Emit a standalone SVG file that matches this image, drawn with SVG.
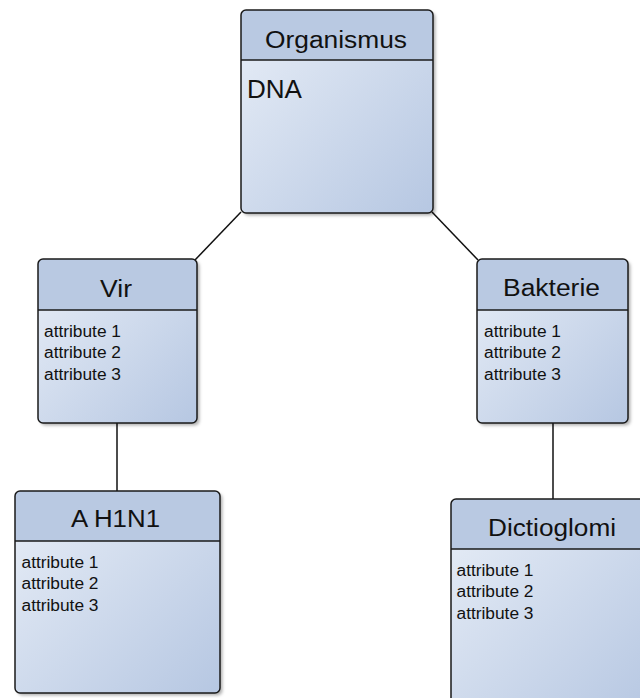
<svg xmlns="http://www.w3.org/2000/svg" width="640" height="698" viewBox="0 0 640 698">
<defs>
<linearGradient id="body" x1="0" y1="0" x2="1" y2="1">
<stop offset="0" stop-color="#e8eef7"/>
<stop offset="1" stop-color="#b6c7e2"/>
</linearGradient>
<filter id="sh" x="-10%" y="-10%" width="125%" height="125%">
<feDropShadow dx="2.5" dy="2.5" stdDeviation="1.8" flood-color="#000" flood-opacity="0.3"/>
</filter>
</defs>
<style>
.bg{fill:url(#body);filter:url(#sh)}
.hd{fill:#b9c9e2}
.ol{fill:none;stroke:#1a1a1a;stroke-width:1.5}
.sep{stroke:#1a1a1a;stroke-width:1.5}
.t{font-family:"Liberation Sans",Arial,sans-serif;fill:#111}
.h{font-size:23.5px}
.a{font-size:16px}
.c{stroke:#111;stroke-width:1.5;fill:none}
</style>
<rect width="640" height="698" fill="#fff"/>
<g id="connectors">
<line class="c" x1="241" y1="212" x2="195" y2="260"/>
<line class="c" x1="432" y1="212" x2="478" y2="260"/>
<line class="c" x1="117" y1="423" x2="117" y2="491"/>
<line class="c" x1="553" y1="423" x2="553" y2="499"/>
</g>
<g id="organismus">
<rect class="bg" x="241" y="10" width="192" height="203" rx="5"/>
<path class="hd" d="M241,60 V15 a5,5 0 0 1 5,-5 H428 a5,5 0 0 1 5,5 V60 Z"/>
<line class="sep" x1="241" y1="60" x2="433" y2="60"/>
<rect class="ol" x="241" y="10" width="192" height="203" rx="5"/>
<text class="t h" x="265" y="47.5" textLength="142" lengthAdjust="spacingAndGlyphs">Organismus</text>
<text class="t" font-size="25" x="247" y="97.5" textLength="55" lengthAdjust="spacingAndGlyphs">DNA</text>
</g>
<g id="vir">
<rect class="bg" x="38" y="259" width="159" height="164" rx="5"/>
<path class="hd" d="M38,310 V264 a5,5 0 0 1 5,-5 H192 a5,5 0 0 1 5,5 V310 Z"/>
<line class="sep" x1="38" y1="310" x2="197" y2="310"/>
<rect class="ol" x="38" y="259" width="159" height="164" rx="5"/>
<text class="t h" x="100" y="297" textLength="32" lengthAdjust="spacingAndGlyphs">Vir</text>
<text class="t a" x="44" y="336.5" textLength="77" lengthAdjust="spacingAndGlyphs">attribute 1</text>
<text class="t a" x="44" y="358" textLength="77" lengthAdjust="spacingAndGlyphs">attribute 2</text>
<text class="t a" x="44" y="379.5" textLength="77" lengthAdjust="spacingAndGlyphs">attribute 3</text>
</g>
<g id="bakterie">
<rect class="bg" x="477" y="259" width="151" height="164" rx="5"/>
<path class="hd" d="M477,310 V264 a5,5 0 0 1 5,-5 H623 a5,5 0 0 1 5,5 V310 Z"/>
<line class="sep" x1="477" y1="310" x2="628" y2="310"/>
<rect class="ol" x="477" y="259" width="151" height="164" rx="5"/>
<text class="t h" x="503" y="296" textLength="97" lengthAdjust="spacingAndGlyphs">Bakterie</text>
<text class="t a" x="484" y="336.5" textLength="77" lengthAdjust="spacingAndGlyphs">attribute 1</text>
<text class="t a" x="484" y="358" textLength="77" lengthAdjust="spacingAndGlyphs">attribute 2</text>
<text class="t a" x="484" y="379.5" textLength="77" lengthAdjust="spacingAndGlyphs">attribute 3</text>
</g>
<g id="ah1n1">
<rect class="bg" x="15" y="491" width="205" height="202" rx="5"/>
<path class="hd" d="M15,541 V496 a5,5 0 0 1 5,-5 H215 a5,5 0 0 1 5,5 V541 Z"/>
<line class="sep" x1="15" y1="541" x2="220" y2="541"/>
<rect class="ol" x="15" y="491" width="205" height="202" rx="5"/>
<text class="t h" x="71" y="527" textLength="89" lengthAdjust="spacingAndGlyphs">A H1N1</text>
<text class="t a" x="21.5" y="567.5" textLength="77" lengthAdjust="spacingAndGlyphs">attribute 1</text>
<text class="t a" x="21.5" y="589" textLength="77" lengthAdjust="spacingAndGlyphs">attribute 2</text>
<text class="t a" x="21.5" y="610.5" textLength="77" lengthAdjust="spacingAndGlyphs">attribute 3</text>
</g>
<g id="dictioglomi">
<rect class="bg" x="451" y="499" width="205" height="210" rx="5"/>
<path class="hd" d="M451,549 V504 a5,5 0 0 1 5,-5 H651 a5,5 0 0 1 5,5 V549 Z"/>
<line class="sep" x1="451" y1="549" x2="656" y2="549"/>
<rect class="ol" x="451" y="499" width="205" height="210" rx="5"/>
<text class="t h" x="488" y="535.5" textLength="128" lengthAdjust="spacingAndGlyphs">Dictioglomi</text>
<text class="t a" x="456.5" y="575.5" textLength="77" lengthAdjust="spacingAndGlyphs">attribute 1</text>
<text class="t a" x="456.5" y="597" textLength="77" lengthAdjust="spacingAndGlyphs">attribute 2</text>
<text class="t a" x="456.5" y="618.5" textLength="77" lengthAdjust="spacingAndGlyphs">attribute 3</text>
</g>
</svg>
